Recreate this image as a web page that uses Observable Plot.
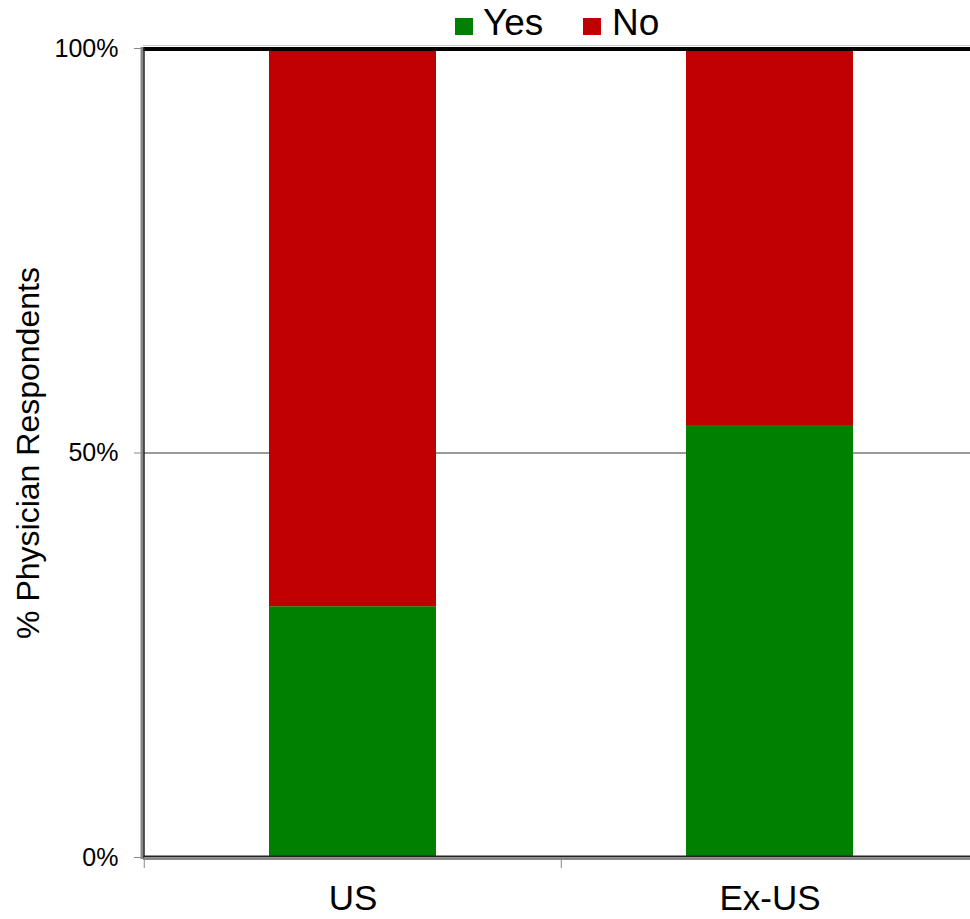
<!DOCTYPE html>
<html>
<head>
<meta charset="utf-8">
<script src="https://cdn.jsdelivr.net/npm/d3@7"></script>
<script src="https://cdn.jsdelivr.net/npm/@observablehq/plot@0.6"></script>
<style>
  html, body { margin: 0; padding: 0; background: #fff; }
  body { width: 970px; height: 919px; position: relative; overflow: hidden; font-family: "Liberation Sans", Arial, sans-serif; }
  #legend { position: absolute; top: 0; left: 0; width: 970px; height: 46px; z-index: 2; }
  .sw { position: absolute; top: 18px; width: 18px; height: 17px; }
  .lt { position: absolute; top: 2px; font-size: 37px; line-height: 42px; color: #000; }
  #chart { position: absolute; top: 0; left: 0; }
</style>
</head>
<body>
<div id="legend"></div>
<div id="chart"></div>
<script>
const regions = ["US", "Ex-US"];
const answers = ["Yes", "No"];
const yesValues = [31.0, 53.4];
const colors = ["#008000", "#c00000"];
const yTicks = [0, 50, 100];

const data = [];
regions.forEach((r, i) => {
  data.push({region: r, answer: "Yes", value: yesValues[i]});
  data.push({region: r, answer: "No", value: 100 - yesValues[i]});
});

// legend
const legend = document.getElementById("legend");
const legendPos = [[455, 483], [583, 612]];
answers.forEach((a, i) => {
  const s = document.createElement("div");
  s.className = "sw"; s.style.left = legendPos[i][0] + "px"; s.style.background = colors[i];
  legend.appendChild(s);
  const t = document.createElement("div");
  t.className = "lt"; t.style.left = legendPos[i][1] + "px"; t.textContent = a;
  legend.appendChild(t);
});

const chart = Plot.plot({
  width: 970,
  height: 919,
  marginTop: 48,
  marginBottom: 62,
  marginLeft: 143,
  marginRight: 0,
  style: {fontFamily: "'Liberation Sans', Arial, sans-serif", background: "#fff"},
  x: {domain: regions, range: [143, 978], paddingInner: 0.6, paddingOuter: 0.3, align: 0.5},
  y: {domain: [0, 100], ticks: yTicks},
  color: {domain: answers, range: colors},
  marks: [
    Plot.ruleY([50], {stroke: "#9a9a9a", strokeWidth: 2}),
    Plot.barY(data, {x: "region", y: "value", fill: "answer", order: answers, inset: 0}),
    Plot.ruleY([100], {stroke: "#c8c8c8", strokeWidth: 1, dy: -3}),
    Plot.ruleY([100], {stroke: "#000", strokeWidth: 4, dy: 0.5}),
    Plot.ruleY([0], {stroke: "#222", strokeWidth: 2, dy: -1}),
    Plot.ruleY([0], {stroke: "#888", strokeWidth: 2, dy: 1.5}),
    Plot.frame({anchor: "left", stroke: "#888", strokeWidth: 3, dx: -1.5}),
    Plot.frame({anchor: "left", stroke: "#222", strokeWidth: 1.5, dx: 0.5}),
    Plot.axisY({ticks: yTicks, tickFormat: d => d + "%", tickSize: 9, tickPadding: 16, stroke: "#888", fontSize: 25, label: null, color: "#000"}),
    Plot.axisX({tickSize: 11, tickFormat: () => "", dx: -208.75, stroke: "#888", label: null}),
    Plot.axisX({tickSize: 0, tickPadding: 28, fontSize: 35, label: null, color: "#000"}),
    Plot.text(["% Physician Respondents"], {frameAnchor: "left", y: [50], text: d => d, rotate: -90, dx: -115, fontSize: 32, fill: "#000", lineAnchor: "middle", textAnchor: "middle"})
  ]
});
document.getElementById("chart").appendChild(chart);
</script>
</body>
</html>
